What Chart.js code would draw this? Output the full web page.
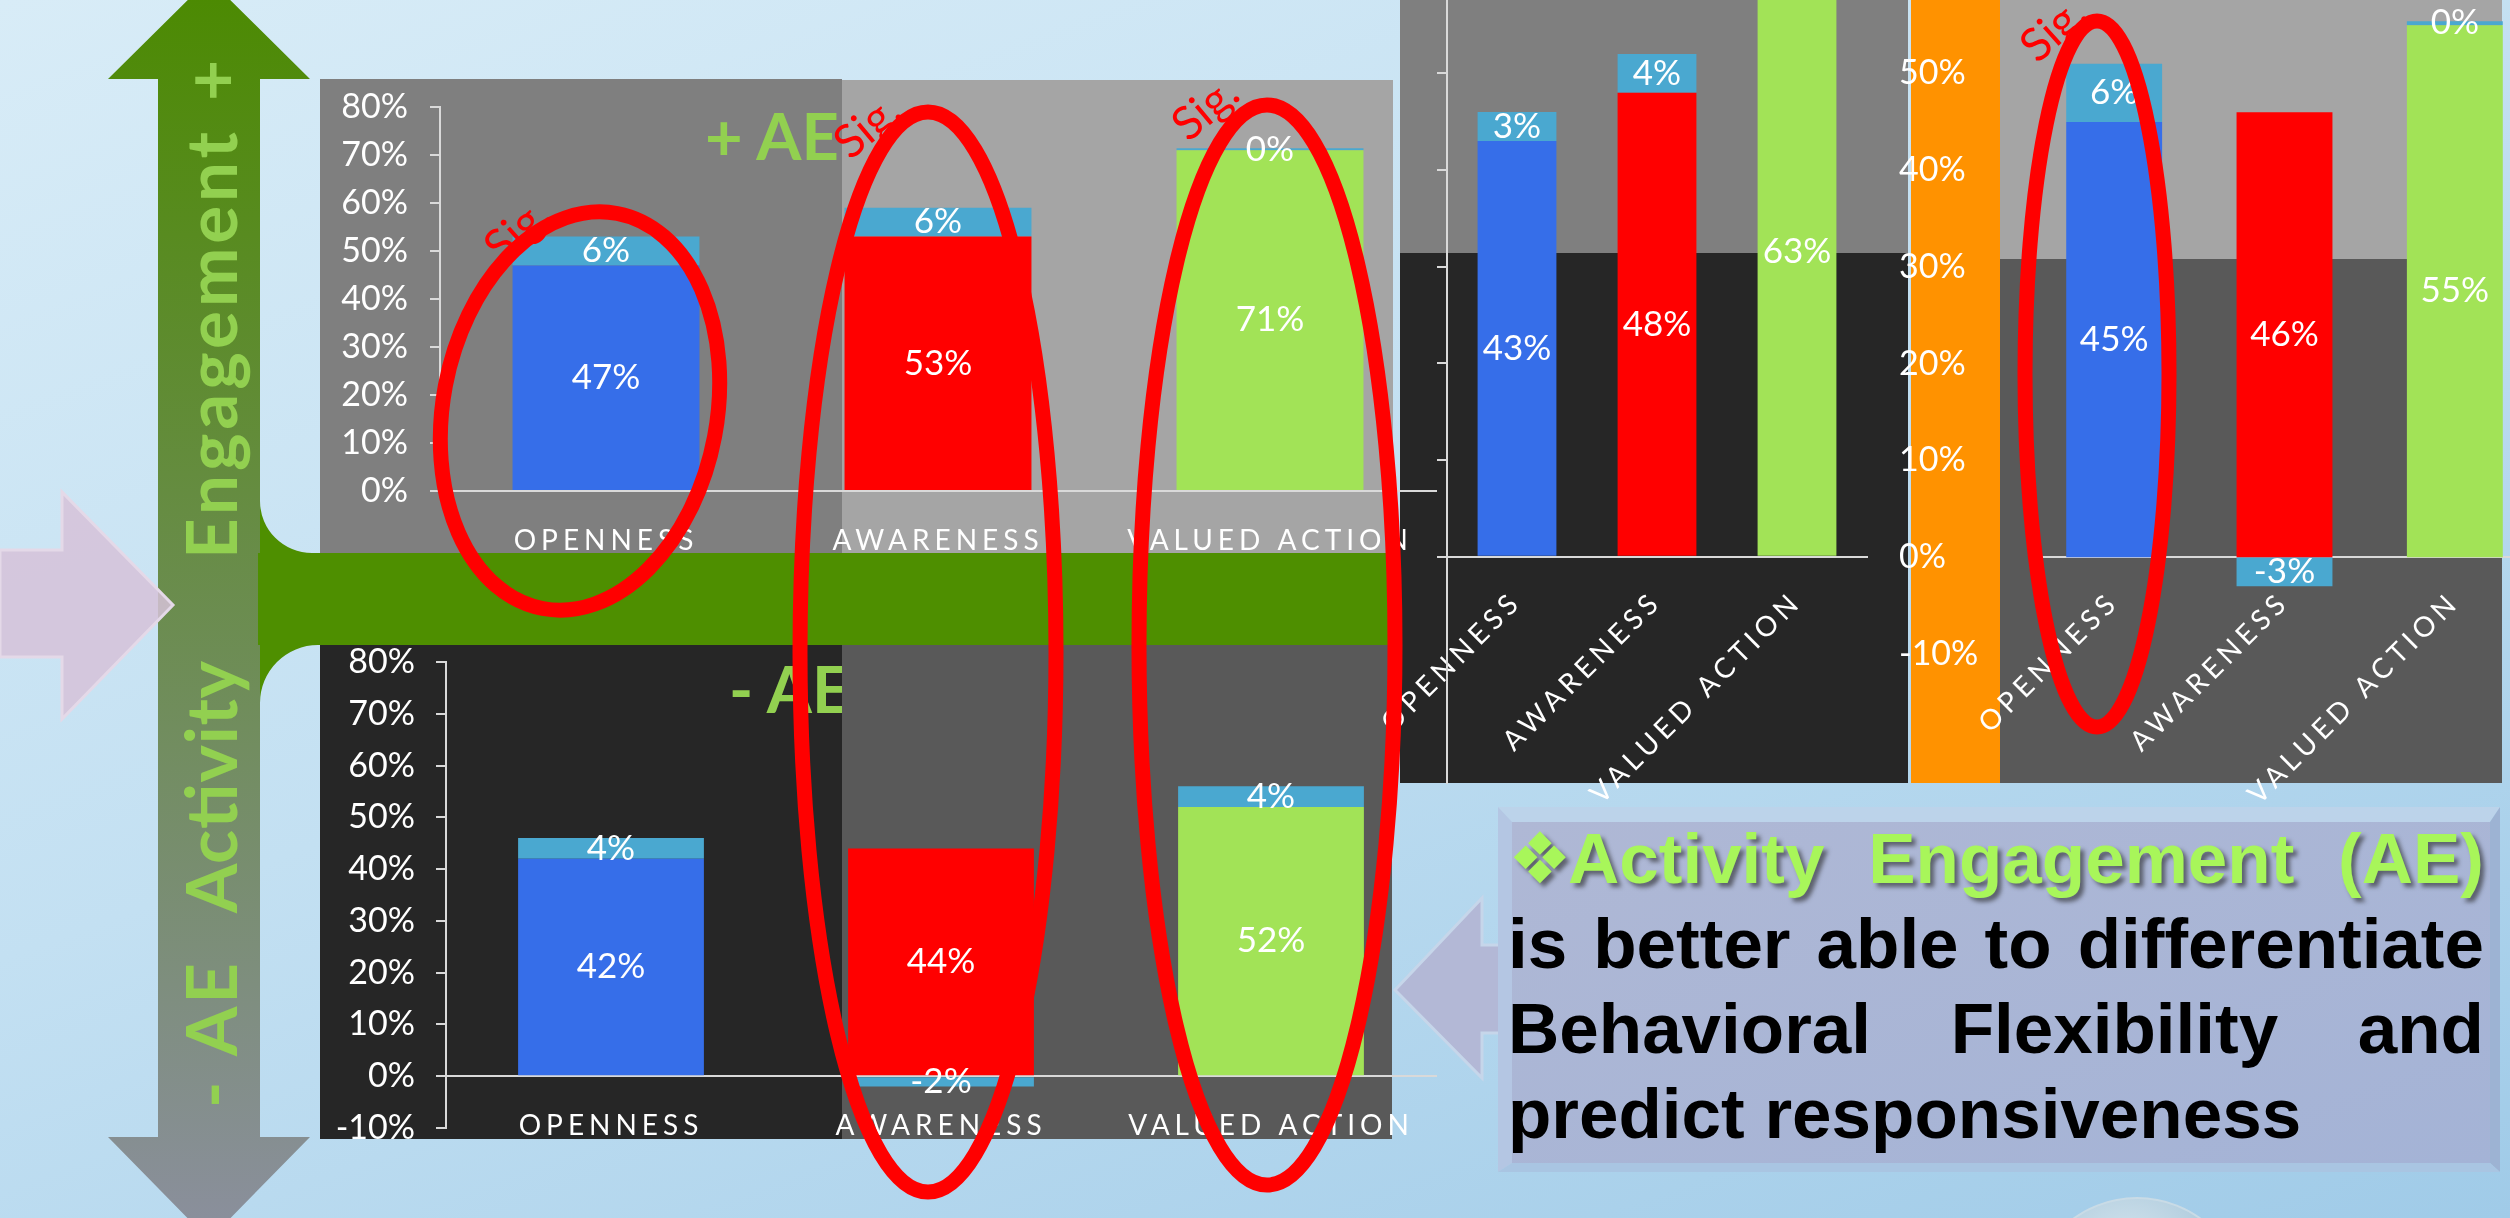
<!DOCTYPE html>
<html>
<head>
<meta charset="utf-8">
<title>Activity Engagement</title>
<script src="https://cdn.jsdelivr.net/npm/chart.js@4.4.1/dist/chart.umd.min.js"></script>
<style>
  html, body { margin: 0; padding: 0; }
  body {
    position: relative; width: 2510px; height: 1218px; overflow: hidden;
    background: linear-gradient(160deg, #d8ecf7 0%, #c3e0f2 45%, #a0cbe8 100%);
    font-family: Lato, sans-serif;
  }
  svg, canvas { position: absolute; }
  #bg { left: 0; top: 0; z-index: 0; }
  canvas { z-index: 1; }
  #marks { left: 0; top: 0; z-index: 2; pointer-events: none; }
  #note {
    position: absolute; z-index: 1; left: 1508px; top: 816px; width: 976px;
    font-family: "Liberation Sans", Arial, sans-serif; font-weight: bold;
    font-size: 71px; line-height: 85px; color: #000;
  }
  #note div { text-align: justify; text-align-last: justify; }
  #note .l1 { color: #a8f65a; text-shadow: 4px 4px 4px rgba(40, 40, 40, 0.6); }
  #note .dia { font-family: "DejaVu Sans"; display: inline-block; width: 60px; }
  #note .last { text-align-last: left; }
</style>
</head>
<body>

<svg id="bg" width="2510" height="1218">
  <defs>
    <linearGradient id="shaft" x1="0" y1="-21" x2="0" y2="1240" gradientUnits="userSpaceOnUse">
      <stop offset="0" stop-color="#4b8a00"/>
      <stop offset="1" stop-color="#8b8f9e"/>
    </linearGradient>
    <linearGradient id="boxFill" x1="0" y1="0" x2="1" y2="1">
      <stop offset="0" stop-color="#afb8d5"/>
      <stop offset="1" stop-color="#a4b3d6"/>
    </linearGradient>
    <radialGradient id="globe" cx="0.45" cy="0.3" r="0.7">
      <stop offset="0" stop-color="#e4eef3"/>
      <stop offset="1" stop-color="#93b6cc"/>
    </radialGradient>
    <clipPath id="clipTop"><rect x="320" y="79" width="522" height="474"/></clipPath>
    <clipPath id="clipBottom"><rect x="320" y="645" width="522" height="494"/></clipPath>
  </defs>

  <!-- double headed arrow, green at the top fading to grey -->
  <polygon fill="url(#shaft)" points="209,-21 310,79 260,79 260,1137 310,1137 209,1240 108,1137 158,1137 158,79 108,79"/>

  <!-- green bar between the two left charts -->
  <rect x="258" y="553" width="1142" height="92" fill="#4e8f00"/>
  <path d="M260,501 A52,52 0 0 0 312,553 L260,553 Z" fill="#4e8f00"/>
  <path d="M318,645 A58,58 0 0 0 260,703 L260,645 Z" fill="#4e8f00"/>

  <!-- axis words on the arrow -->
  <g fill="#92d050" font-family="Lato" font-weight="700" font-size="71">
    <text transform="translate(237,101) rotate(-90)">+</text>
    <text transform="translate(237,559) rotate(-90)" textLength="427" lengthAdjust="spacing">Engagement</text>
    <text transform="translate(237,913) rotate(-90)" textLength="252" lengthAdjust="spacing">Activity</text>
    <text transform="translate(237,1056) rotate(-90)" textLength="93" lengthAdjust="spacing">AE</text>
    <text transform="translate(237,1108) rotate(-90)">-</text>
  </g>

  <!-- pink arrow on the left -->
  <polygon points="0,550 62,550 62,492 173,605 62,719 62,657 0,657" fill="#d6c2d8" fill-opacity="0.85" stroke="#e4d9e8" stroke-width="3"/>

  <!-- panels behind the left charts -->
  <rect x="320" y="79" width="522" height="474" fill="#7f7f7f"/>
  <rect x="842" y="80" width="551" height="473" fill="#a5a5a5"/>
  <text x="705" y="160" clip-path="url(#clipTop)" fill="#92d050" font-family="Lato" font-weight="700" font-size="65">+ AE</text>
  <rect x="320" y="645" width="522" height="494" fill="#262626"/>
  <rect x="842" y="645" width="550" height="494" fill="#595959"/>
  <text x="729" y="713" clip-path="url(#clipBottom)" fill="#92d050" font-family="Lato" font-weight="700" font-size="65">- AE</text>

  <!-- panels behind the right charts -->
  <rect x="1400" y="0" width="508" height="253" fill="#7f7f7f"/>
  <rect x="1400" y="253" width="508" height="530" fill="#262626"/>
  <rect x="1911" y="0" width="89" height="783" fill="#ff9200"/>
  <rect x="2000" y="0" width="502" height="259" fill="#a5a5a5"/>
  <rect x="2000" y="259" width="502" height="524" fill="#595959"/>

  <!-- call-out box -->
  <polygon points="1395,990 1482,898 1482,945 1500,945 1500,1033 1482,1033 1482,1078" fill="#b3b8d6" stroke="#c6d6ea" stroke-width="3"/>
  <polygon points="1498,807 2500,807 2490,822 1512,822" fill="#bcd3ea"/>
  <polygon points="1498,807 1512,822 1512,1163 1498,1172" fill="#b4c6e3"/>
  <polygon points="2500,807 2500,1172 2490,1163 2490,822" fill="#9db3d3"/>
  <polygon points="1498,1172 2500,1172 2490,1163 1512,1163" fill="#a9c5e2"/>
  <rect x="1512" y="822" width="978" height="341" fill="url(#boxFill)"/>

  <!-- glass ball peeking in at the bottom -->
  <circle cx="2137" cy="1306" r="108" fill="url(#globe)" fill-opacity="0.85" stroke="#c9dbe6" stroke-width="2"/>
</svg>

<canvas id="plusAe" width="1160" height="505" style="left:300px; top:62px"></canvas>
<canvas id="minusAe" width="1180" height="556" style="left:300px; top:617px"></canvas>
<canvas id="rightPair" width="560" height="953" style="left:1340px; top:-150px"></canvas>
<canvas id="farRight" width="661" height="955" style="left:1899px; top:-155px"></canvas>

<div id="note">
  <div class="l1"><span class="dia">❖</span>Activity Engagement (AE)</div>
  <div>is better able to differentiate</div>
  <div>Behavioral Flexibility and</div>
  <div class="last">predict responsiveness</div>
</div>

<svg id="marks" width="2510" height="1218">
  <g fill="none" stroke="#ff0000" stroke-width="15">
    <ellipse cx="580" cy="411" rx="137" ry="201" transform="rotate(10.7 580 411)"/>
    <ellipse cx="928" cy="652" rx="128" ry="540"/>
    <ellipse cx="1267" cy="645" rx="128" ry="540"/>
    <ellipse cx="2097" cy="374" rx="72" ry="353"/>
  </g>
  <g fill="#ff0000" font-family="Lato" font-size="46" text-anchor="middle" dominant-baseline="central">
    <text transform="translate(516,229) rotate(-42)">Sig.</text>
    <text transform="translate(866,125) rotate(-40)">Sig.</text>
    <text transform="translate(1204,107) rotate(-40)">Sig.</text>
    <text transform="translate(2052,28) rotate(-42)">Sig.</text>
  </g>
</svg>

<script>
// categories and values
const categories = ['OPENNESS', 'AWARENESS', 'VALUED ACTION'];

// left pair: + AE on top, - AE below
const plusAeBase = [47, 53, 71];
const plusAeDiff = [6, 6, 0.4];
const minusAeBase = [42, 44, 52];
const minusAeDiff = [4, -2, 4];

// right pair, partly cut off by the slide edge
const rightBase = [43, 48, 63];
const rightDiff = [3, 4, null];
const farRightBase = [45, 46, 55];
const farRightDiff = [6, -3, 0.4];

const barColors = ['#366ee9', '#ff0000', '#a2e357'];
const diffColor = '#4aa8d0';
const axisGrey = '#d9d9d9';

Chart.defaults.font.family = 'Lato';
Chart.defaults.color = '#ffffff';

// value labels in the middle of every segment
const barLabels = {
    id: 'barLabels',
    afterDatasetsDraw(chart) {
        const ctx = chart.ctx;
        ctx.save();
        ctx.font = '35px Lato';
        ctx.fillStyle = '#ffffff';
        ctx.textAlign = 'center';
        ctx.textBaseline = 'middle';
        chart.data.datasets.forEach((ds, i) => {
            chart.getDatasetMeta(i).data.forEach((bar, j) => {
                const v = ds.data[j];
                if (v === null || v === undefined) return;
                ctx.fillText(Math.round(v) + '%', bar.x, (bar.y + bar.base) / 2);
            });
        });
        ctx.restore();
    }
};

// category names on the slide are letter spaced
const spacedLabels = {
    id: 'spacedLabels',
    afterUpdate(chart) {
        const sc = chart.scales.x;
        if (sc._spaced) return;
        const orig = sc.drawLabels;
        sc.drawLabels = function (area) {
            this.ctx.save();
            this.ctx.letterSpacing = '5px';
            orig.call(this, area);
            this.ctx.restore();
        };
        sc._spaced = true;
    }
};

const makeChart = (id, base, diff, cfg) => new Chart(document.getElementById(id), {
    type: 'bar',
    data: {
        labels: categories,
        datasets: [
            { data: base, backgroundColor: barColors },
            { data: diff, backgroundColor: diffColor }
        ]
    },
    options: {
        responsive: false,
        animation: false,
        layout: { padding: cfg.padding },
        plugins: { legend: { display: false }, tooltip: { enabled: false } },
        datasets: { bar: { categoryPercentage: 0.563, barPercentage: 1 } },
        scales: {
            x: {
                stacked: true,
                position: cfg.xAtZero ? { y: 0 } : 'bottom',
                grid: { display: false },
                border: { display: true, color: axisGrey, width: 2 },
                ticks: {
                    font: { size: 28 },
                    padding: cfg.xPad,
                    autoSkip: false,
                    minRotation: cfg.rotation,
                    maxRotation: cfg.rotation
                },
                afterFit: (s) => { if (cfg.xHeight) s.height = cfg.xHeight; }
            },
            y: {
                stacked: true,
                min: cfg.min,
                max: cfg.max,
                ticks: {
                    display: cfg.yLabels,
                    stepSize: 10,
                    font: { size: 34 },
                    padding: cfg.yPad,
                    crossAlign: cfg.crossAlign || 'near',
                    callback: (v) => (v % 10 === 0 ? v + '%' : null)
                },
                grid: {
                    display: cfg.yTicks,
                    drawOnChartArea: false,
                    drawTicks: true,
                    tickLength: 10,
                    lineWidth: 2,
                    color: axisGrey,
                    tickColor: (c) => (c.tick && c.tick.value < 0 && cfg.hideNegTicks ? 'rgba(0,0,0,0)' : axisGrey)
                },
                border: { display: cfg.yTicks, color: axisGrey, width: 2 },
                afterFit: (s) => { s.width = cfg.yWidth; }
            }
        }
    },
    plugins: [barLabels, spacedLabels]
});

makeChart('plusAe', plusAeBase, plusAeDiff, {
    min: 0, max: 80,
    padding: { top: 45, right: 24, bottom: 10, left: 0 },
    yWidth: 140, yPad: 22, yLabels: true, yTicks: true,
    xAtZero: false, xHeight: 66, xPad: 25, rotation: 0
});

makeChart('minusAe', minusAeBase, minusAeDiff, {
    min: -10, max: 80,
    padding: { top: 45, right: 44, bottom: 45, left: 0 },
    yWidth: 146, yPad: 21, yLabels: true, yTicks: true,
    xAtZero: true, xPad: 25, rotation: 0
});

makeChart('rightPair', rightBase, rightDiff, {
    min: -23.4, max: 70,
    padding: { top: 30, right: 33, bottom: 20, left: 0 },
    yWidth: 107, yPad: 10, yLabels: false, yTicks: true, hideNegTicks: true,
    xAtZero: true, xPad: 20, rotation: 45
});

makeChart('farRight', farRightBase, farRightDiff, {
    min: -10, max: 70,
    padding: { top: 35, right: 20, bottom: 146, left: 0 },
    yWidth: 130, yPad: 10, yLabels: true, yTicks: false, crossAlign: 'far',
    xAtZero: true, xPad: 20, rotation: 45
});
</script>
</body>
</html>
